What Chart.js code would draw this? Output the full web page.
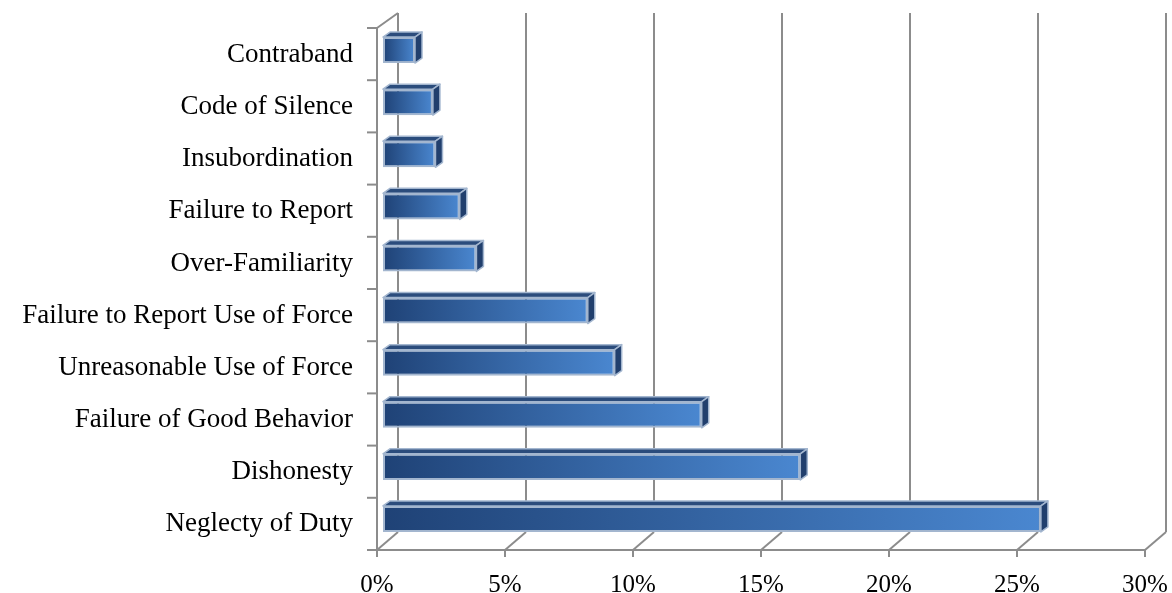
<!DOCTYPE html>
<html>
<head>
<meta charset="utf-8">
<script src="https://cdn.jsdelivr.net/npm/chart.js@4.4.0/dist/chart.umd.min.js"></script>
<style>
  html, body { margin: 0; padding: 0; background: #fff; }
</style>
</head>
<body>
<canvas id="myChart" width="1172" height="593"></canvas>
<script>
const categories = [
  "Contraband",
  "Code of Silence",
  "Insubordination",
  "Failure to Report",
  "Over-Familiarity",
  "Failure to Report Use of Force",
  "Unreasonable Use of Force",
  "Failure of Good Behavior",
  "Dishonesty",
  "Neglecty of Duty"
];
const shares = [1.25, 1.95, 2.05, 3.0, 3.65, 8.0, 9.05, 12.45, 16.3, 25.7];
const tickValues = [0, 5, 10, 15, 20, 25, 30];

// 3d offsets relative to the plane the bars are drawn in
const FRONT_DX = -6;
const BACK_DX = 15;
const BAR_DX = 7, BAR_DY = 5;

Chart.defaults.font.family = "'Liberation Serif', 'Times New Roman', serif";
Chart.defaults.color = "#000";

function line(ctx, x1, y1, x2, y2) {
  ctx.beginPath();
  ctx.moveTo(x1, y1);
  ctx.lineTo(x2, y2);
  ctx.stroke();
}

function noPad(scale) {
  scale.paddingTop = 0;
  scale.paddingBottom = 0;
  scale.paddingLeft = 0;
  scale.paddingRight = 0;
}

const wall3d = {
  id: "wall3d",
  beforeDatasetsDraw(chart) {
    const ctx = chart.ctx, a = chart.chartArea, xs = chart.scales.x;
    const fTop = a.top + 4, fBot = a.bottom + 5;
    const bTop = a.top - 11, bBot = a.bottom - 13;
    ctx.save();
    ctx.strokeStyle = "#8c8c8c";
    ctx.lineWidth = 2;
    xs.ticks.forEach(function (t) {
      const px = xs.getPixelForValue(t.value);
      line(ctx, px + BACK_DX, bTop, px + BACK_DX, bBot);
      line(ctx, px + FRONT_DX, fBot, px + BACK_DX, bBot);
      line(ctx, px + FRONT_DX, fBot, px + FRONT_DX, fBot + 7);
    });
    const x0 = xs.getPixelForValue(0) + FRONT_DX;
    line(ctx, x0, fBot, xs.getPixelForValue(30) + FRONT_DX, fBot);
    line(ctx, x0, fTop, x0, fBot);
    line(ctx, x0, fTop, xs.getPixelForValue(0) + BACK_DX, bTop);
    const n = categories.length;
    for (let i = 0; i <= n; i++) {
      const yy = fTop + i * (fBot - fTop) / n;
      line(ctx, x0 - 10, yy, x0, yy);
    }
    ctx.restore();
  },
  afterDatasetsDraw(chart) {
    const ctx = chart.ctx;
    const meta = chart.getDatasetMeta(0);
    ctx.save();
    ctx.strokeStyle = "#a3b6cf";
    ctx.lineWidth = 1.5;
    ctx.lineJoin = "round";
    meta.data.forEach(function (bar) {
      const p = bar.getProps(["x", "y", "base", "height"], true);
      const top = p.y - p.height / 2, bot = p.y + p.height / 2;
      // top face
      ctx.beginPath();
      ctx.moveTo(p.base, top);
      ctx.lineTo(p.base + BAR_DX, top - BAR_DY);
      ctx.lineTo(p.x + BAR_DX, top - BAR_DY);
      ctx.lineTo(p.x, top);
      ctx.closePath();
      ctx.fillStyle = "#2b4c7c";
      ctx.fill();
      ctx.stroke();
      // side face
      ctx.beginPath();
      ctx.moveTo(p.x, top);
      ctx.lineTo(p.x + BAR_DX, top - BAR_DY);
      ctx.lineTo(p.x + BAR_DX, bot - BAR_DY);
      ctx.lineTo(p.x, bot);
      ctx.closePath();
      ctx.fillStyle = "#213f6d";
      ctx.fill();
      ctx.stroke();
    });
    ctx.restore();
  }
};

const ctx = document.getElementById("myChart");
const myChart = new Chart(ctx, {
  type: "bar",
  data: {
    labels: categories,
    datasets: [
      {
        label: "Share",
        data: shares,
        backgroundColor: function (c) {
          const xs = c.chart.scales.x;
          if (!xs || c.raw === undefined) return "#3a6cb0";
          const x1 = xs.getPixelForValue(0), x2 = xs.getPixelForValue(c.raw);
          if (!isFinite(x1) || !isFinite(x2) || x1 === x2) return "#3a6cb0";
          const g = c.chart.ctx.createLinearGradient(x1, 0, x2, 0);
          g.addColorStop(0, "#1f4276");
          g.addColorStop(1, "#4a87d0");
          return g;
        },
        borderColor: "#a3b6cf",
        borderWidth: 2,
        borderSkipped: false,
        categoryPercentage: 1,
        barPercentage: 0.5
      }
    ]
  },
  options: {
    indexAxis: "y",
    responsive: false,
    animation: false,
    layout: { padding: { top: 24, right: 21, left: 0, bottom: 0 } },
    plugins: {
      legend: { display: false },
      tooltip: { enabled: false }
    },
    scales: {
      x: {
        min: 0,
        max: 30,
        afterBuildTicks: function (scale) {
          scale.ticks = tickValues.map(function (v) { return { value: v }; });
        },
        afterFit: function (scale) { scale.height = 48; noPad(scale); },
        grid: { display: false },
        border: { display: false },
        ticks: {
          font: { size: 25 },
          padding: 17,
          labelOffset: -6,
          maxRotation: 0,
          callback: function (v) { return v + "%"; }
        }
      },
      y: {
        afterFit: function (scale) { scale.width = 383; noPad(scale); },
        grid: { display: false, drawTicks: false },
        border: { display: false },
        ticks: {
          font: { size: 27 },
          padding: 30,
          labelOffset: 5
        }
      }
    }
  },
  plugins: [wall3d]
});
</script>
</body>
</html>
